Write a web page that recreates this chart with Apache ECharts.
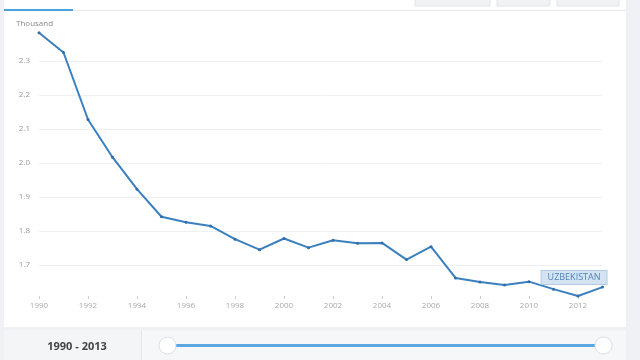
<!DOCTYPE html>
<html><head><meta charset="utf-8">
<script src="https://cdn.jsdelivr.net/npm/echarts@6/dist/echarts.min.js"></script>
<style>html,body{margin:0;padding:0;background:#eff1f4;}#c{width:640px;height:360px;}</style>
</head><body><div id="c"></div>
<script>
const years = ['1990','1991','1992','1993','1994','1995','1996','1997','1998','1999','2000','2001','2002','2003','2004','2005','2006','2007','2008','2009','2010','2011','2012','2013'];
const values = [2.383,2.325,2.128,2.017,1.923,1.842,1.826,1.815,1.776,1.745,1.778,1.751,1.773,1.764,1.765,1.716,1.754,1.662,1.650,1.641,1.651,1.629,1.609,1.635];
const seriesName = 'UZBEKISTAN';
const unitLabel = 'Thousand';
const rangeLabel = '1990 - 2013';

const chart = echarts.init(document.getElementById('c'));
const gridColors = ['transparent','#eef0f2','#eef0f2','#eef0f2','#eef0f2','#eef0f2','#eef0f2','#eef0f2','transparent'];
chart.setOption({
  backgroundColor: '#eff1f4',
  animation: false,
  textStyle: {fontFamily: 'Open Sans'},
  title: [
    {text: unitLabel, left: 11, top: 15, textStyle: {fontSize: 8, color: '#888', fontWeight: 'normal'}},
    {text: rangeLabel, left: 72, top: 336, textAlign: 'center', textStyle: {fontSize: 11, color: '#444', fontWeight: 'bold'}}
  ],
  graphic: [
    {type: 'rect', z: -10, shape: {x: 4, y: 0, width: 622, height: 327}, style: {fill: '#ffffff'}},
    {type: 'rect', z: -10, shape: {x: 4, y: 330, width: 622, height: 30}, style: {fill: '#f6f7f9'}},
    {type: 'rect', z: -9, shape: {x: 4, y: 330, width: 137, height: 30}, style: {fill: '#f4f5f7'}},
    {type: 'line', z: -9, shape: {x1: 141.5, y1: 330, x2: 141.5, y2: 360}, style: {stroke: '#e6e9ec', lineWidth: 1}},
    {type: 'line', z: -9, shape: {x1: 4, y1: 10.5, x2: 626, y2: 10.5}, style: {stroke: '#e8ebee', lineWidth: 1}},
    {type: 'rect', z: -8, shape: {x: 4, y: 9, width: 69, height: 2}, style: {fill: '#4aa3df'}},
    {type: 'rect', z: -8, shape: {x: 415, y: -2, width: 75, height: 8}, style: {fill: '#f1f2f4', stroke: '#e2e5e8'}},
    {type: 'rect', z: -8, shape: {x: 497, y: -2, width: 53, height: 8}, style: {fill: '#f1f2f4', stroke: '#e2e5e8'}},
    {type: 'rect', z: -8, shape: {x: 557, y: -2, width: 62, height: 8}, style: {fill: '#f1f2f4', stroke: '#e2e5e8'}}
  ],
  grid: {left: 39, right: 37.5, top: 27, bottom: 61, containLabel: false},
  xAxis: {
    type: 'category', data: years, boundaryGap: false,
    axisLine: {show: false},
    axisTick: {show: true, inside: true, length: 3, interval: 1, lineStyle: {color: '#ccc'}},
    axisLabel: {interval: 1, fontSize: 8, color: '#aaa', margin: 3},
    splitLine: {show: false}
  },
  yAxis: {
    type: 'value', min: 1.6, max: 2.4, interval: 0.1,
    axisLine: {show: false}, axisTick: {show: false},
    axisLabel: {fontSize: 8, color: '#999', margin: 9,
      formatter: v => (Math.abs(v - 1.6) < 1e-6 || Math.abs(v - 2.4) < 1e-6) ? '' : v.toFixed(1)},
    splitLine: {show: true, lineStyle: {color: gridColors, width: 1}}
  },
  dataZoom: [{
    type: 'slider', xAxisIndex: 0, start: 0, end: 100, zoomLock: true,
    left: 165, right: 37, top: 344, height: 3,
    showDetail: false, showDataShadow: false, brushSelect: false, moveHandleSize: 0,
    backgroundColor: 'transparent', borderColor: 'transparent',
    fillerColor: '#5aa7e2',
    handleIcon: 'circle', handleSize: 17,
    handleStyle: {color: '#ffffff', borderColor: '#dcdfe3', borderWidth: 1},
    dataBackground: {lineStyle: {opacity: 0}, areaStyle: {opacity: 0}},
    filterMode: 'none'
  }],
  series: [{
    name: seriesName, type: 'line', data: values,
    lineStyle: {color: '#3b80be', width: 2},
    itemStyle: {color: '#2f6ea8'},
    symbol: 'circle', symbolSize: 3, showSymbol: true,
    endLabel: {show: true, formatter: seriesName, align: 'right', verticalAlign: 'bottom', distance: 0, offset: [4, -3],
      fontSize: 9, color: '#4f86b8', backgroundColor: '#d3e3f2', borderColor: '#b2cbe3', borderWidth: 1, padding: [2, 6]}
  }]
});
</script></body></html>
